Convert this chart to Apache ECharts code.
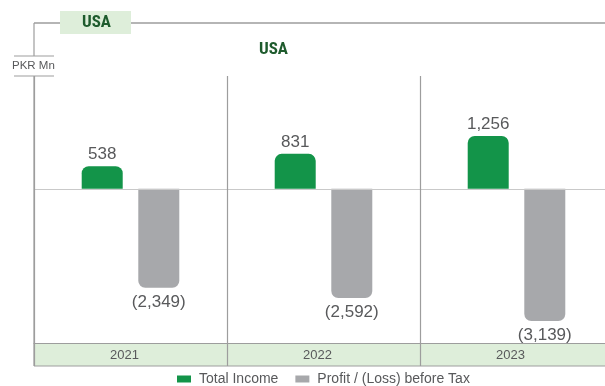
<!DOCTYPE html>
<html>
<head>
<meta charset="utf-8">
<script src="https://cdn.jsdelivr.net/npm/echarts@6/dist/echarts.min.js"></script>
<style>
  html, body { margin: 0; padding: 0; background: #fff; }
  #chart { width: 605px; height: 386px; }
</style>
</head>
<body>
<div id="chart"></div>
<script>
// Segment results for USA operations (PKR Mn)
const categories = ['2021', '2022', '2023'];
const totalIncome = [538, 831, 1256];
const profitBeforeTax = [-2349, -2592, -3139];
const seriesNames = ['Total Income', 'Profit / (Loss) before Tax'];

const GREEN = '#139449';
const GREY = '#a7a8ab';
const FRAME = '#9d9d9d';
const TEXT = '#58595b';
const TITLE_GREEN = '#1e5b2d';
const BAND = '#deeeda';
const FONT = '"Liberation Sans", Arial, sans-serif';
const NARROW = '"Liberation Sans Narrow", "Roboto Condensed", "Liberation Sans", Arial, sans-serif';

const fmt = v => Math.abs(v).toLocaleString('en-US');

const chart = echarts.init(document.getElementById('chart'), null, { renderer: 'canvas' });

chart.setOption({
  animation: false,
  backgroundColor: '#fff',
  title: {
    text: 'USA',
    left: 268.5,
    top: 36,
    textAlign: 'center',
    textStyle: { fontFamily: NARROW, fontWeight: 'bold', fontSize: 17, color: TITLE_GREEN }
  },
  legend: {
    data: seriesNames,
    left: 172,
    top: 367,
    itemWidth: 14,
    itemHeight: 7,
    itemGap: 17,
    icon: 'rect',
    textStyle: { fontFamily: FONT, fontSize: 14, color: TEXT, padding: [0, 0, 0, 3] }
  },
  grid: { left: 34, top: 76, width: 579, height: 267, containLabel: false, outerBoundsMode: 'none' },
  xAxis: {
    type: 'category',
    z: 10,
    data: categories,
    boundaryGap: true,
    axisLine: { show: true, onZero: false, lineStyle: { color: FRAME, width: 1.2 } },
    axisTick: { show: true, length: 23, lineStyle: { color: FRAME, width: 1.2 } },
    splitLine: { show: true, lineStyle: { color: FRAME, width: 1.2 } },
    axisLabel: {
      margin: 6,
      fontFamily: FONT,
      fontSize: 13,
      color: TEXT,
      padding: [0, 12, 0, 0]
    }
  },
  yAxis: {
    type: 'value',
    min: -3660,
    max: 2680,
    axisLine: { show: false },
    axisTick: { show: false },
    axisLabel: { show: false },
    splitLine: { show: false }
  },
  graphic: [
    // category band behind the year labels
    { type: 'rect', z: -10, shape: { x: 34, y: 343, width: 580, height: 23 },
      style: { fill: BAND } },
    { type: 'line', shape: { x1: 34, y1: 366, x2: 605, y2: 366 },
      style: { stroke: FRAME, lineWidth: 1.2 } },
    // top frame line broken by the tab label
    { type: 'line', shape: { x1: 34, y1: 23, x2: 60, y2: 23 },
      style: { stroke: FRAME, lineWidth: 1.5 } },
    { type: 'line', shape: { x1: 131, y1: 23, x2: 605, y2: 23 },
      style: { stroke: FRAME, lineWidth: 1.5 } },
    // left frame line, broken by the unit label
    { type: 'line', shape: { x1: 34, y1: 23, x2: 34, y2: 56 },
      style: { stroke: FRAME, lineWidth: 1.2 } },
    { type: 'line', shape: { x1: 34, y1: 76, x2: 34, y2: 366 },
      style: { stroke: FRAME, lineWidth: 1.2 } },
    { type: 'line', shape: { x1: 14, y1: 56, x2: 54, y2: 56 },
      style: { stroke: FRAME, lineWidth: 1.2 } },
    { type: 'line', shape: { x1: 14, y1: 76, x2: 54, y2: 76 },
      style: { stroke: FRAME, lineWidth: 1.2 } },
    { type: 'text', left: 12, top: 60,
      style: { text: 'PKR Mn', fontFamily: FONT, fontSize: 11.5, fill: TEXT } },
    // tab label
    { type: 'rect', shape: { x: 60, y: 11, width: 71, height: 23 },
      style: { fill: BAND } },
    { type: 'text', x: 96.5, y: 23,
      style: { text: 'USA', fontFamily: NARROW, fontWeight: 'bold', fontSize: 17,
               fill: TITLE_GREEN, textAlign: 'center', textVerticalAlign: 'middle' } }
  ],
  series: [
    {
      name: seriesNames[0],
      type: 'bar',
      data: totalIncome,
      barWidth: 41,
      barGap: '38%',
      itemStyle: { color: GREEN, borderRadius: [7, 7, 0, 0] },
      label: {
        show: true,
        position: 'top',
        distance: 3,
        fontFamily: FONT,
        fontSize: 17,
        color: TEXT,
        formatter: p => fmt(p.value)
      },
      markLine: {
        silent: true,
        symbol: 'none',
        label: { show: false },
        lineStyle: { color: '#c9c9c9', width: 1.2, type: 'solid' },
        data: [{ yAxis: 0 }]
      }
    },
    {
      name: seriesNames[1],
      type: 'bar',
      data: profitBeforeTax,
      barWidth: 41,
      itemStyle: { color: GREY, borderRadius: [0, 0, 7, 7] },
      label: {
        show: true,
        position: 'bottom',
        distance: 6,
        fontFamily: FONT,
        fontSize: 17,
        color: TEXT,
        formatter: p => '(' + fmt(p.value) + ')'
      }
    }
  ]
});
</script>
</body>
</html>
